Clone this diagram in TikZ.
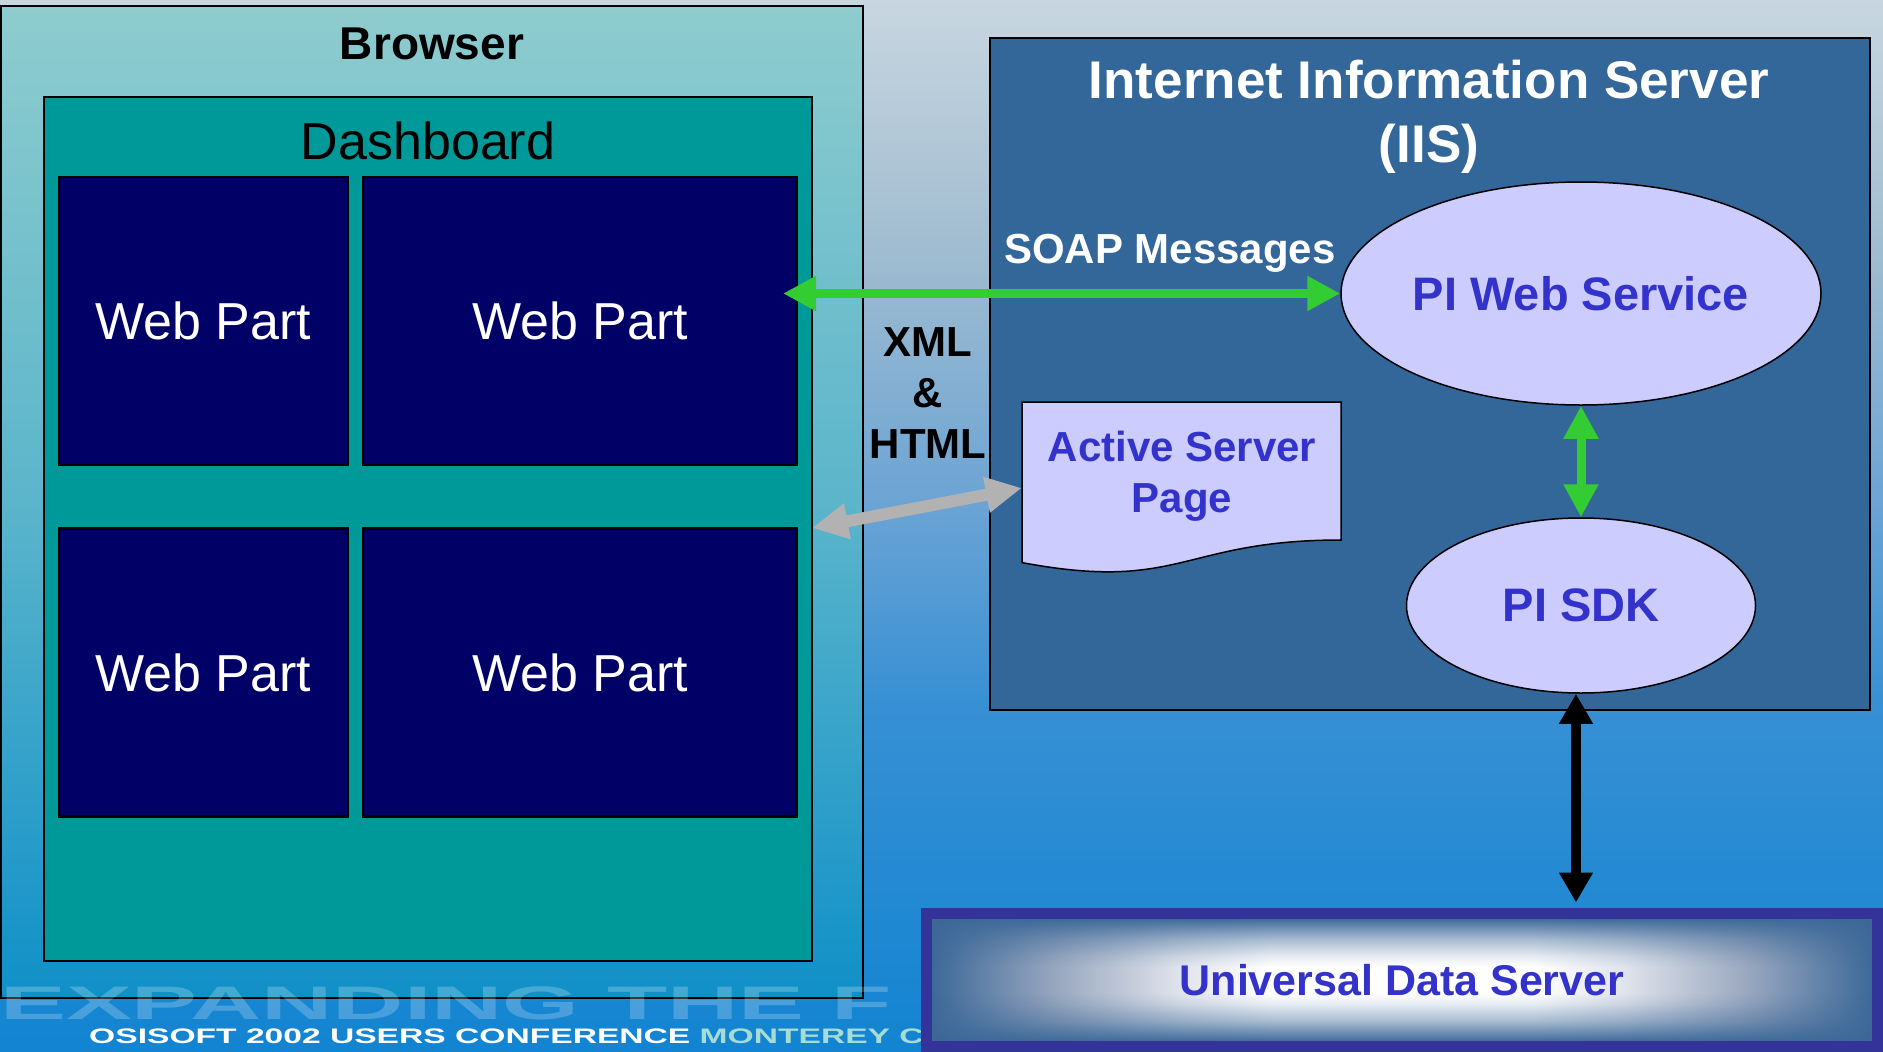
\documentclass[tikz,border=0pt]{standalone}
\usepackage{fontspec}
\setmainfont{Liberation Sans}
\usetikzlibrary{arrows.meta,shapes.geometric,fadings}
\definecolor{bgtop}{HTML}{C8D6E0}
\definecolor{bgupper}{HTML}{A0BCD0}
\definecolor{bgmid}{HTML}{6CA4D4}
\definecolor{bglow}{HTML}{3890D4}
\definecolor{bgbot}{HTML}{1284D2}
\definecolor{brtop}{HTML}{8ECCCE}
\definecolor{brmid}{HTML}{5BB5CB}
\definecolor{brbot}{HTML}{1090C8}
\definecolor{dashfill}{HTML}{009999}
\definecolor{partfill}{HTML}{000066}
\definecolor{iisfill}{HTML}{336699}
\definecolor{lavfill}{HTML}{CCCCFF}
\definecolor{piblue}{HTML}{3333CC}
\definecolor{soapgreen}{HTML}{33CC33}
\definecolor{aspgray}{HTML}{B2B2B2}
\definecolor{udsframe}{HTML}{333399}
\definecolor{udsedge}{HTML}{3C6898}
\definecolor{udsmid}{HTML}{9AA8C0}
\definecolor{udslight}{HTML}{E0E4EC}
\definecolor{footteal}{HTML}{A6DCD4}
\pgfdeclareverticalshading{slidebg}{100bp}{color(0bp)=(bgbot); color(25bp)=(bgbot); color(41.75bp)=(bglow); color(51.25bp)=(bgmid); color(63bp)=(bgupper); color(75bp)=(bgtop); color(100bp)=(bgtop)}
\pgfdeclarehorizontalshading{udsacross}{100bp}{color(0bp)=(udsedge); color(25bp)=(udsedge); color(31.75bp)=(udsmid); color(38.25bp)=(udslight); color(43bp)=(white); color(57bp)=(white); color(61.75bp)=(udslight); color(68.25bp)=(udsmid); color(75bp)=(udsedge); color(100bp)=(udsedge)}
\pgfdeclareverticalshading{udsfadeshade}{100bp}{color(0bp)=(white); color(25bp)=(white); color(33.5bp)=(white!45!black); color(40.5bp)=(white!12!black); color(44.75bp)=(black); color(55.25bp)=(black); color(59.5bp)=(white!12!black); color(66.5bp)=(white!45!black); color(75bp)=(white); color(100bp)=(white)}
\pgfdeclarefading{udsfade}{\pgfuseshading{udsfadeshade}}
\begin{document}
\begin{tikzpicture}[x=1pt,y=-1pt,
  every node/.style={inner sep=0pt},
  frame/.style={draw=black,line width=2.5pt},
  part/.style={frame,fill=partfill,text=white,minimum height=288pt,font=\fontsize{52}{60}\selectfont},
  bubble/.style={ellipse,draw=black,line width=1.5pt,fill=lavfill,text=piblue,font=\fontsize{47}{56}\selectfont\bfseries},
  boldtext/.style={font=\fontsize{42}{51}\selectfont\bfseries,align=center},
  greenway/.style={draw=soapgreen,line width=9pt,{Triangle[length=33pt,width=33pt]}-{Triangle[length=33pt,width=33pt]}},
  grayway/.style={draw=aspgray,line width=12pt,{Triangle[length=36pt,width=34pt]}-{Triangle[length=36pt,width=34pt]}},
  blackway/.style={draw=black,line width=10pt,{Triangle[length=30pt,width=32pt]}-{Triangle[length=30pt,width=32pt]}}]
\useasboundingbox (0,0) rectangle (1883,1052);
\fill[shading=slidebg] (0,0) rectangle (1883,1052);
\node[frame,top color=brtop,bottom color=brbot,middle color=brmid,minimum width=862pt,minimum height=992pt] (browser) at (432,502) {};
\node[font=\fontsize{46}{54}\selectfont\bfseries,anchor=base] (browsertitle) at (432,59) {Browser};
\node[frame,fill=iisfill,minimum width=880pt,minimum height=672pt] (iis) at (1430,374) {};
\node[font=\fontsize{53}{64}\selectfont\bfseries,text=white,align=center] (iistitle) at (1429,116.5) {Internet Information Server\\(IIS)};
\node[frame,fill=dashfill,minimum width=768pt,minimum height=864pt] (dash) at (428,529) {};
\node[font=\fontsize{52}{60}\selectfont,anchor=base] (dashtitle) at (428,159) {Dashboard};
\node[part,minimum width=289pt] (wpa) at (203.5,321) {Web Part};
\node[part,minimum width=434pt] (wpb) at (580,321) {Web Part};
\node[part,minimum width=289pt] (wpc) at (203.5,672.5) {Web Part};
\node[part,minimum width=434pt] (wpd) at (580,672.5) {Web Part};
\node[anchor=base west,font=\fontsize{47}{52}\selectfont\bfseries,text=white,opacity=0.22] (slogan) at (0,1019) {\scalebox{2.1}[1]{EXPANDING THE F}};
\node[anchor=base west,font=\fontsize{21}{24}\selectfont\bfseries,text=white] (footer) at (89,1043) {\scalebox{1.6}[1]{OSISOFT 2002 USERS CONFERENCE \textcolor{footteal}{MONTEREY C}}};
\node[boldtext,text=white,anchor=base] (soap) at (1170,263) {SOAP Messages};
\node[boldtext] (xmlhtml) at (928,393) {XML\\\&\\HTML};
\node[bubble,minimum width=480pt,minimum height=223pt] (pws) at (1581,293.5) {PI Web Service};
\node[bubble,minimum width=349pt,minimum height=175pt] (sdk) at (1581,605.5) {PI SDK};
\draw[line width=1.5pt,fill=lavfill] (1022,402) -- (1341,402) -- (1341,540) .. controls (1181.5,540) and (1181.5,592.5) .. (1022,562.6) -- cycle;
\node[minimum width=319pt,minimum height=172pt] (asp) at (1181.5,488) {};
\node[boldtext,text=piblue] (asptext) at (1182,476.5) {Active Server\\Page};
\coordinate (soapend) at (783,293.5);
\coordinate (grayend) at (812,528);
\draw[greenway] (soapend) -- (pws.west);
\draw[greenway] (pws.south) -- (sdk.north);
\draw[grayway] (grayend) -- (asp.west);
\fill[shading=udsacross] (931,918) rectangle (1873,1042);
\fill[udsedge,path fading=udsfade] (931,918) rectangle (1873,1042);
\node[draw=udsframe,line width=11pt,minimum width=951pt,minimum height=133pt,text=piblue,font=\fontsize{43}{50}\selectfont\bfseries] (uds) at (1402,980) {Universal Data Server};
\draw[blackway,shorten >=5.5pt] ([xshift=-5pt]sdk.south) -- ([xshift=-5pt]sdk.south |- uds.north);
\end{tikzpicture}
\end{document}
